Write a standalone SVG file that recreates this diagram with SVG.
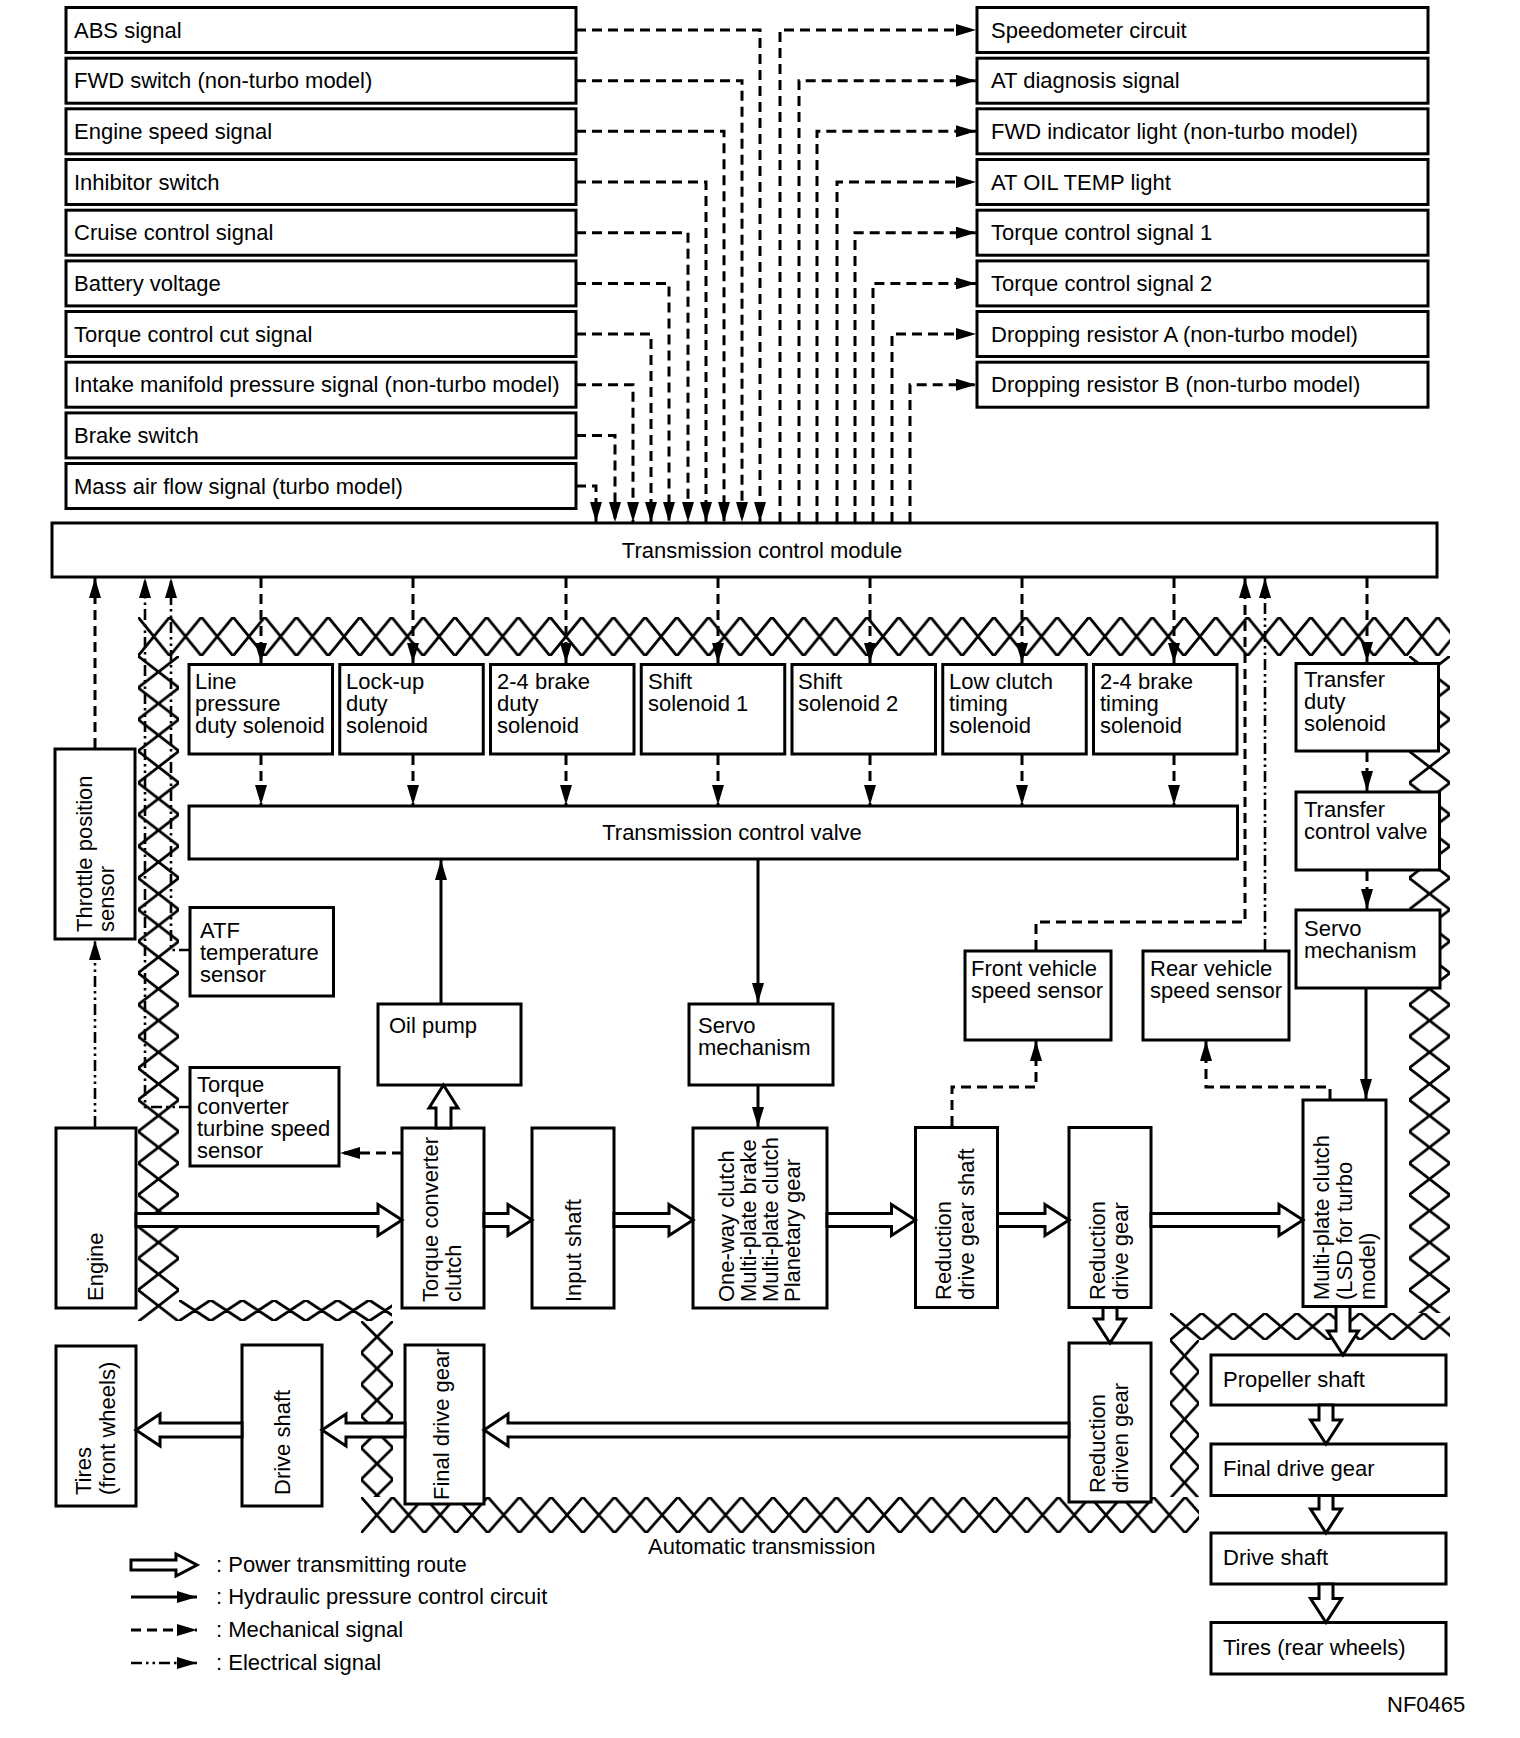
<svg xmlns="http://www.w3.org/2000/svg" width="1520" height="1738" viewBox="0 0 1520 1738">
<style>
.box{fill:#fff;stroke:#000;stroke-width:3}
.t{font-family:"Liberation Sans",Arial,Helvetica,sans-serif;font-size:22px;fill:#000}
.m{text-anchor:middle}
.mech{fill:none;stroke:#000;stroke-width:3;stroke-dasharray:10 6;marker-end:url(#ah)}
.elec{fill:none;stroke:#000;stroke-width:2.6;stroke-dasharray:11 4 2.5 4 2.5 4;marker-end:url(#ah)}
.hyd{fill:none;stroke:#000;stroke-width:3;marker-end:url(#ah)}
.pw{fill:#fff;stroke:#000;stroke-width:3;stroke-linejoin:miter}
.hp{fill:none;stroke:#000;stroke-width:2.8}
</style>
<defs>
<marker id="ah" markerUnits="userSpaceOnUse" markerWidth="20" markerHeight="12" refX="20" refY="6" orient="auto"><path d="M0,0L20,6L0,12z" fill="#000"/></marker>
<pattern id="p1" patternUnits="userSpaceOnUse" x="138" y="617" width="31.7" height="39"><path class="hp" d="M0,0L31.7,39M31.7,0L0,39M-31.7,0L0,39M0,0L-31.7,39M31.7,0L63.4,39M63.4,0L31.7,39M0,-39L31.7,0M31.7,-39L0,0M0,39L31.7,78M31.7,39L0,78"/></pattern>
<pattern id="p2" patternUnits="userSpaceOnUse" x="138" y="656" width="41" height="31.7"><path class="hp" d="M0,0L41,31.7M41,0L0,31.7M-41,0L0,31.7M0,0L-41,31.7M41,0L82,31.7M82,0L41,31.7M0,-31.7L41,0M41,-31.7L0,0M0,31.7L41,63.4M41,31.7L0,63.4"/></pattern>
<pattern id="p3" patternUnits="userSpaceOnUse" x="179" y="1300" width="31.7" height="21"><path class="hp" d="M0,0L31.7,21M31.7,0L0,21M-31.7,0L0,21M0,0L-31.7,21M31.7,0L63.4,21M63.4,0L31.7,21M0,-21L31.7,0M31.7,-21L0,0M0,21L31.7,42M31.7,21L0,42"/></pattern>
<pattern id="p4" patternUnits="userSpaceOnUse" x="361" y="1321" width="32" height="31.7"><path class="hp" d="M0,0L32,31.7M32,0L0,31.7M-32,0L0,31.7M0,0L-32,31.7M32,0L64,31.7M64,0L32,31.7M0,-31.7L32,0M32,-31.7L0,0M0,31.7L32,63.4M32,31.7L0,63.4"/></pattern>
<pattern id="p5" patternUnits="userSpaceOnUse" x="361" y="1497" width="31.7" height="36"><path class="hp" d="M0,0L31.7,36M31.7,0L0,36M-31.7,0L0,36M0,0L-31.7,36M31.7,0L63.4,36M63.4,0L31.7,36M0,-36L31.7,0M31.7,-36L0,0M0,36L31.7,72M31.7,36L0,72"/></pattern>
<pattern id="p6" patternUnits="userSpaceOnUse" x="1170" y="1340" width="29" height="31.7"><path class="hp" d="M0,0L29,31.7M29,0L0,31.7M-29,0L0,31.7M0,0L-29,31.7M29,0L58,31.7M58,0L29,31.7M0,-31.7L29,0M29,-31.7L0,0M0,31.7L29,63.4M29,31.7L0,63.4"/></pattern>
<pattern id="p7" patternUnits="userSpaceOnUse" x="1170" y="1313" width="31.7" height="27"><path class="hp" d="M0,0L31.7,27M31.7,0L0,27M-31.7,0L0,27M0,0L-31.7,27M31.7,0L63.4,27M63.4,0L31.7,27M0,-27L31.7,0M31.7,-27L0,0M0,27L31.7,54M31.7,27L0,54"/></pattern>
</defs>

<g id="hatch-automatic-transmission">
<rect x="138" y="617" width="1312" height="39" fill="url(#p1)"/>
<rect x="138" y="656" width="41" height="665" fill="url(#p2)"/>
<rect x="179" y="1300" width="213" height="21" fill="url(#p3)"/>
<rect x="361" y="1321" width="32" height="176" fill="url(#p4)"/>
<rect x="361" y="1497" width="838" height="36" fill="url(#p5)"/>
<rect x="1170" y="1340" width="29" height="157" fill="url(#p6)"/>
<rect x="1170" y="1313" width="280" height="27" fill="url(#p7)"/>
<rect x="1409" y="656" width="41" height="657" fill="url(#p2)"/>
<text class="t" x="648" y="1554">Automatic transmission</text>
</g>

<g id="in-abs"><rect class="box" x="66" y="7.5" width="510" height="45"/><text class="t" x="74" y="37.5">ABS signal</text></g>
<g id="in-fwd-switch"><rect class="box" x="66" y="58.2" width="510" height="45"/><text class="t" x="74" y="88.2">FWD switch (non-turbo model)</text></g>
<g id="in-engine-speed"><rect class="box" x="66" y="108.8" width="510" height="45"/><text class="t" x="74" y="138.8">Engine speed signal</text></g>
<g id="in-inhibitor"><rect class="box" x="66" y="159.5" width="510" height="45"/><text class="t" x="74" y="189.5">Inhibitor switch</text></g>
<g id="in-cruise"><rect class="box" x="66" y="210.2" width="510" height="45"/><text class="t" x="74" y="240.2">Cruise control signal</text></g>
<g id="in-battery"><rect class="box" x="66" y="260.9" width="510" height="45"/><text class="t" x="74" y="290.9">Battery voltage</text></g>
<g id="in-torque-cut"><rect class="box" x="66" y="311.5" width="510" height="45"/><text class="t" x="74" y="341.5">Torque control cut signal</text></g>
<g id="in-intake"><rect class="box" x="66" y="362.2" width="510" height="45"/><text class="t" x="74" y="392.2">Intake manifold pressure signal (non-turbo model)</text></g>
<g id="in-brake"><rect class="box" x="66" y="412.9" width="510" height="45"/><text class="t" x="74" y="442.9">Brake switch</text></g>
<g id="in-maf"><rect class="box" x="66" y="463.5" width="510" height="45"/><text class="t" x="74" y="493.5">Mass air flow signal (turbo model)</text></g>

<g id="out-speedometer"><rect class="box" x="977" y="7.5" width="451" height="45"/><text class="t" x="991" y="37.5">Speedometer circuit</text></g>
<g id="out-at-diag"><rect class="box" x="977" y="58.2" width="451" height="45"/><text class="t" x="991" y="88.2">AT diagnosis signal</text></g>
<g id="out-fwd-light"><rect class="box" x="977" y="108.8" width="451" height="45"/><text class="t" x="991" y="138.8">FWD indicator light (non-turbo model)</text></g>
<g id="out-oil-temp"><rect class="box" x="977" y="159.5" width="451" height="45"/><text class="t" x="991" y="189.5">AT OIL TEMP light</text></g>
<g id="out-tcs1"><rect class="box" x="977" y="210.2" width="451" height="45"/><text class="t" x="991" y="240.2">Torque control signal 1</text></g>
<g id="out-tcs2"><rect class="box" x="977" y="260.9" width="451" height="45"/><text class="t" x="991" y="290.9">Torque control signal 2</text></g>
<g id="out-drop-a"><rect class="box" x="977" y="311.5" width="451" height="45"/><text class="t" x="991" y="341.5">Dropping resistor A (non-turbo model)</text></g>
<g id="out-drop-b"><rect class="box" x="977" y="362.2" width="451" height="45"/><text class="t" x="991" y="392.2">Dropping resistor B (non-turbo model)</text></g>

<g id="tcm"><rect class="box" x="52" y="523" width="1385" height="54"/><text class="t m" x="762" y="558">Transmission control module</text></g>

<g id="sol-line-pressure"><rect class="box" x="189" y="664.5" width="143.5" height="89.5"/><text class="t"><tspan x="195" y="689">Line</tspan><tspan x="195" y="711">pressure</tspan><tspan x="195" y="733">duty solenoid</tspan></text></g>
<g id="sol-lockup"><rect class="box" x="339.75" y="664.5" width="143.5" height="89.5"/><text class="t"><tspan x="346" y="689">Lock-up</tspan><tspan x="346" y="711">duty</tspan><tspan x="346" y="733">solenoid</tspan></text></g>
<g id="sol-24-brake-duty"><rect class="box" x="490.5" y="664.5" width="143.5" height="89.5"/><text class="t"><tspan x="497" y="689">2-4 brake</tspan><tspan x="497" y="711">duty</tspan><tspan x="497" y="733">solenoid</tspan></text></g>
<g id="sol-shift1"><rect class="box" x="641.25" y="664.5" width="143.5" height="89.5"/><text class="t"><tspan x="648" y="689">Shift</tspan><tspan x="648" y="711">solenoid 1</tspan></text></g>
<g id="sol-shift2"><rect class="box" x="792" y="664.5" width="143.5" height="89.5"/><text class="t"><tspan x="798" y="689">Shift</tspan><tspan x="798" y="711">solenoid 2</tspan></text></g>
<g id="sol-low-clutch"><rect class="box" x="942.75" y="664.5" width="143.5" height="89.5"/><text class="t"><tspan x="949" y="689">Low clutch</tspan><tspan x="949" y="711">timing</tspan><tspan x="949" y="733">solenoid</tspan></text></g>
<g id="sol-24-brake-timing"><rect class="box" x="1093.5" y="664.5" width="143.5" height="89.5"/><text class="t"><tspan x="1100" y="689">2-4 brake</tspan><tspan x="1100" y="711">timing</tspan><tspan x="1100" y="733">solenoid</tspan></text></g>
<g id="sol-transfer-duty"><rect class="box" x="1296" y="663.5" width="142.5" height="87.5"/><text class="t"><tspan x="1304" y="687">Transfer</tspan><tspan x="1304" y="709">duty</tspan><tspan x="1304" y="731">solenoid</tspan></text></g>

<g id="tcv"><rect class="box" x="189" y="806" width="1048.5" height="53"/><text class="t m" x="732" y="840">Transmission control valve</text></g>
<g id="transfer-valve"><rect class="box" x="1296" y="792" width="143.5" height="78"/><text class="t"><tspan x="1304" y="816.5">Transfer</tspan><tspan x="1304" y="838.5">control valve</tspan></text></g>
<g id="servo-right"><rect class="box" x="1296" y="910" width="144" height="78"/><text class="t"><tspan x="1304" y="936">Servo</tspan><tspan x="1304" y="958">mechanism</tspan></text></g>

<g id="throttle-sensor"><rect class="box" x="55" y="749" width="80" height="190"/><text class="t" transform="translate(91.5,932) rotate(-90)"><tspan x="0" y="0">Throttle position</tspan><tspan x="0" y="22.5">sensor</tspan></text></g>
<g id="atf-sensor"><rect class="box" x="190" y="907.5" width="143.5" height="88.5"/><text class="t"><tspan x="200" y="938">ATF</tspan><tspan x="200" y="960">temperature</tspan><tspan x="200" y="982">sensor</tspan></text></g>
<g id="turbine-sensor"><rect class="box" x="190" y="1067.5" width="149" height="98.5"/><text class="t"><tspan x="197" y="1092">Torque</tspan><tspan x="197" y="1114">converter</tspan><tspan x="197" y="1136">turbine speed</tspan><tspan x="197" y="1158">sensor</tspan></text></g>
<g id="oil-pump"><rect class="box" x="378" y="1004" width="143" height="81"/><text class="t" x="389" y="1033">Oil pump</text></g>
<g id="servo-mid"><rect class="box" x="689" y="1004" width="144" height="81"/><text class="t"><tspan x="698" y="1033">Servo</tspan><tspan x="698" y="1055">mechanism</tspan></text></g>
<g id="front-vss"><rect class="box" x="965" y="951" width="146" height="89"/><text class="t"><tspan x="971" y="976">Front vehicle</tspan><tspan x="971" y="998">speed sensor</tspan></text></g>
<g id="rear-vss"><rect class="box" x="1143" y="951" width="146" height="89"/><text class="t"><tspan x="1150" y="976">Rear vehicle</tspan><tspan x="1150" y="998">speed sensor</tspan></text></g>

<g id="engine"><rect class="box" x="56" y="1128" width="80" height="180"/><text class="t" transform="translate(103,1301) rotate(-90)">Engine</text></g>
<g id="tc-clutch"><rect class="box" x="402" y="1128" width="82" height="180"/><text class="t" transform="translate(438,1302) rotate(-90)"><tspan x="0" y="0">Torque converter</tspan><tspan x="0" y="23">clutch</tspan></text></g>
<g id="input-shaft"><rect class="box" x="532" y="1128" width="82" height="180"/><text class="t" transform="translate(581,1302) rotate(-90)">Input shaft</text></g>
<g id="planetary"><rect class="box" x="693" y="1128" width="134" height="180"/><text class="t" transform="translate(734,1302) rotate(-90)"><tspan x="0" y="0">One-way clutch</tspan><tspan x="0" y="22">Multi-plate brake</tspan><tspan x="0" y="44">Multi-plate clutch</tspan><tspan x="0" y="66">Planetary gear</tspan></text></g>
<g id="red-drive-shaft"><rect class="box" x="915.5" y="1127.5" width="82" height="180"/><text class="t" transform="translate(951,1300) rotate(-90)"><tspan x="0" y="0">Reduction</tspan><tspan x="0" y="23">drive gear shaft</tspan></text></g>
<g id="red-drive-gear"><rect class="box" x="1069" y="1127.5" width="82" height="180"/><text class="t" transform="translate(1105,1300) rotate(-90)"><tspan x="0" y="0">Reduction</tspan><tspan x="0" y="23">drive gear</tspan></text></g>
<g id="multi-plate-clutch"><rect class="box" x="1303" y="1100" width="83" height="206.5"/><text class="t" transform="translate(1329,1300) rotate(-90)"><tspan x="0" y="0">Multi-plate clutch</tspan><tspan x="0" y="23">(LSD for turbo</tspan><tspan x="0" y="46">model)</tspan></text></g>
<g id="red-driven-gear"><rect class="box" x="1069" y="1343" width="82" height="159"/><text class="t" transform="translate(1105,1493) rotate(-90)"><tspan x="0" y="0">Reduction</tspan><tspan x="0" y="23">driven gear</tspan></text></g>
<g id="final-drive-front"><rect class="box" x="405" y="1345" width="79" height="159"/><text class="t" transform="translate(449,1500) rotate(-90)">Final drive gear</text></g>
<g id="drive-shaft-front"><rect class="box" x="242" y="1345" width="80" height="161"/><text class="t" transform="translate(290,1495) rotate(-90)">Drive shaft</text></g>
<g id="tires-front"><rect class="box" x="56" y="1346" width="80" height="160"/><text class="t" transform="translate(91,1495) rotate(-90)"><tspan x="0" y="0">Tires</tspan><tspan x="0" y="24">(front wheels)</tspan></text></g>

<g id="propeller-shaft"><rect class="box" x="1211" y="1355" width="235" height="50"/><text class="t" x="1223" y="1387">Propeller shaft</text></g>
<g id="final-drive-rear"><rect class="box" x="1211" y="1444" width="235" height="51.5"/><text class="t" x="1223" y="1476">Final drive gear</text></g>
<g id="drive-shaft-rear"><rect class="box" x="1211" y="1533" width="235" height="51"/><text class="t" x="1223" y="1565">Drive shaft</text></g>
<g id="tires-rear"><rect class="box" x="1211" y="1622.5" width="235" height="51.5"/><text class="t" x="1223" y="1655">Tires (rear wheels)</text></g>

<g id="connectors">
<path class="mech" d="M576,30H760V522"/>
<path class="mech" d="M576,80.7H742V522"/>
<path class="mech" d="M576,131.3H724V522"/>
<path class="mech" d="M576,182H706V522"/>
<path class="mech" d="M576,232.7H688V522"/>
<path class="mech" d="M576,283.4H669V522"/>
<path class="mech" d="M576,334H651V522"/>
<path class="mech" d="M576,384.7H633V522"/>
<path class="mech" d="M576,435.4H615V522"/>
<path class="mech" d="M576,486H596V522"/>
<path class="mech" d="M780,522V30H976"/>
<path class="mech" d="M799,522V80.7H976"/>
<path class="mech" d="M817,522V131.3H976"/>
<path class="mech" d="M837,522V182H976"/>
<path class="mech" d="M855,522V232.7H976"/>
<path class="mech" d="M873,522V283.4H976"/>
<path class="mech" d="M892,522V334H976"/>
<path class="mech" d="M910,522V384.7H976"/>

<path class="mech" d="M261,578V663"/>
<path class="mech" d="M413,578V663"/>
<path class="mech" d="M566,578V663"/>
<path class="mech" d="M718,578V663"/>
<path class="mech" d="M870,578V663"/>
<path class="mech" d="M1022,578V663"/>
<path class="mech" d="M1174,578V663"/>
<path class="mech" d="M1367,578V662"/>
<path class="mech" d="M261,755V805"/>
<path class="mech" d="M413,755V805"/>
<path class="mech" d="M566,755V805"/>
<path class="mech" d="M718,755V805"/>
<path class="mech" d="M870,755V805"/>
<path class="mech" d="M1022,755V805"/>
<path class="mech" d="M1174,755V805"/>
<path class="mech" d="M1367,752V791"/>
<path class="mech" d="M1367,871V909"/>

<path class="mech" d="M95,748V578"/>
<path class="elec" d="M95,1127V940"/>
<path class="elec" d="M190,1107H145V578"/>
<path class="elec" d="M190,950H171V578"/>
<path class="mech" d="M402,1153H340"/>

<path class="mech" d="M952,1126V1087H1036V1041"/>
<path class="mech" d="M1036,950V922H1245V578"/>
<path class="mech" d="M1330,1099V1087H1206V1041"/>
<path class="elec" d="M1265,950V578"/>

<path class="hyd" d="M441,1003V860"/>
<path class="hyd" d="M758,860V1003"/>
<path class="hyd" d="M758,1086V1127"/>
<path class="hyd" d="M1366,989V1099"/>

<polygon class="pw" points="136,1213.5 378,1213.5 378,1204.5 402,1220 378,1235.5 378,1226.5 136,1226.5"/>
<polygon class="pw" points="484,1213.5 508,1213.5 508,1204.5 532,1220 508,1235.5 508,1226.5 484,1226.5"/>
<polygon class="pw" points="614,1213.5 669,1213.5 669,1204.5 693,1220 669,1235.5 669,1226.5 614,1226.5"/>
<polygon class="pw" points="827,1213.5 891.5,1213.5 891.5,1204.5 915.5,1220 891.5,1235.5 891.5,1226.5 827,1226.5"/>
<polygon class="pw" points="997.5,1213.5 1045,1213.5 1045,1204.5 1069,1220 1045,1235.5 1045,1226.5 997.5,1226.5"/>
<polygon class="pw" points="1151,1213.5 1279,1213.5 1279,1204.5 1303,1220 1279,1235.5 1279,1226.5 1151,1226.5"/>
<polygon class="pw" points="1069,1423 508,1423 508,1414 484,1430 508,1446 508,1437 1069,1437"/>
<polygon class="pw" points="405,1423 346,1423 346,1414 322,1430 346,1446 346,1437 405,1437"/>
<polygon class="pw" points="242,1423 160,1423 160,1414 136,1430 160,1446 160,1437 242,1437"/>
<polygon class="pw" points="436,1128 451,1128 451,1108 458,1108 443.5,1085 429,1108 436,1108"/>
<polygon class="pw" points="1103,1307.5 1117,1307.5 1117,1319 1125.5,1319 1110,1343 1094.5,1319 1103,1319"/>
<polygon class="pw" points="1336,1306.5 1350,1306.5 1350,1331 1358.5,1331 1343,1355 1327.5,1331 1336,1331"/>
<polygon class="pw" points="1319,1405 1333,1405 1333,1420 1341.5,1420 1326,1444 1310.5,1420 1319,1420"/>
<polygon class="pw" points="1319,1495.5 1333,1495.5 1333,1509 1341.5,1509 1326,1533 1310.5,1509 1319,1509"/>
<polygon class="pw" points="1319,1584 1333,1584 1333,1598.5 1341.5,1598.5 1326,1622.5 1310.5,1598.5 1319,1598.5"/>
</g>

<g id="legend">
<polygon class="pw" points="131,1560 176,1560 176,1554 197,1565 176,1576 176,1570 131,1570"/>
<text class="t" x="216" y="1572">: Power transmitting route</text>
<path class="hyd" d="M131,1597H197"/>
<text class="t" x="216" y="1604">: Hydraulic pressure control circuit</text>
<path class="mech" d="M131,1630H197"/>
<text class="t" x="216" y="1637">: Mechanical signal</text>
<path class="elec" d="M131,1663H197"/>
<text class="t" x="216" y="1670">: Electrical signal</text>
</g>

<text class="t" x="1387" y="1712">NF0465</text>
</svg>
